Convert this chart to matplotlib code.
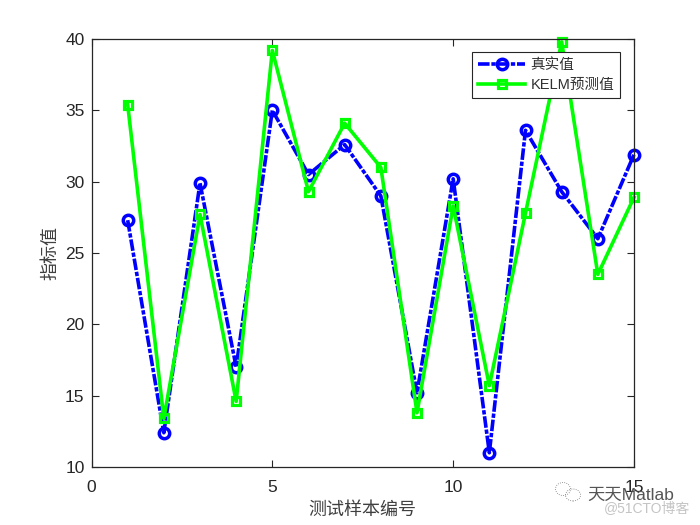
import matplotlib
matplotlib.use('Agg')
import matplotlib.pyplot as plt
from matplotlib.patches import Ellipse

plt.rcParams['font.family'] = ['Liberation Sans', 'Noto Sans CJK SC', 'DejaVu Sans']

W, H = 700, 525

sample_no = [1, 2, 3, 4, 5, 6, 7, 8, 9, 10, 11, 12, 13, 14, 15]
y_true = [27.3, 12.4, 29.9, 17.0, 35.0, 30.5, 32.6, 29.0, 15.2, 30.2, 11.0, 33.6, 29.3, 26.0, 31.9]
y_pred = [35.4, 13.4, 27.7, 14.6, 39.2, 29.3, 34.1, 31.0, 13.8, 28.3, 15.7, 27.8, 39.8, 23.5, 28.9]
x_ticks = [0, 5, 10, 15]
y_ticks = [10, 15, 20, 25, 30, 35, 40]

fig = plt.figure(figsize=(W / 100, H / 100), dpi=100)
ax = fig.add_axes([91.5 / W, 1 - 467 / H, (634 - 91.5) / W, (467 - 39) / H])

ax.plot(sample_no, y_true, color='#0000ff', linestyle=(0, (3.2, 0.5, 1.2, 0.5)), linewidth=2.6, marker='o',
        markersize=7.5, markeredgewidth=2.5, markerfacecolor='none', label='真实值', clip_on=False)
ax.plot(sample_no, y_pred, color='#00ff00', linestyle='-', linewidth=2.6, marker='s',
        markersize=6, markeredgewidth=2.3, markerfacecolor='none', label='KELM预测值', clip_on=False)

ax.set_xlim(0, 15)
ax.set_ylim(10, 40)
ax.set_xticks(x_ticks)
ax.set_yticks(y_ticks)
ax.tick_params(direction='in', top=True, right=True, length=5, width=0.8,
               labelsize=12.5, colors='#262626')
ax.tick_params(axis='x', pad=9)
ax.tick_params(axis='y', pad=5)
for s in ax.spines.values():
    s.set_linewidth(0.9)
    s.set_color('#262626')

ax.set_xlabel('测试样本编号', fontsize=13, color='#404040', labelpad=5)
ax.set_ylabel('指标值', fontsize=13, color='#404040', labelpad=4)

leg = ax.legend(loc='upper left', bbox_to_anchor=(472 / W, 1 - 52 / H), bbox_transform=fig.transFigure,
                fontsize=10.5, fancybox=False, framealpha=1, edgecolor='#262626',
                borderaxespad=0, borderpad=0.4, labelspacing=0.4, handlelength=3.25, handletextpad=0.35)
leg.get_frame().set_linewidth(0.8)
for t in leg.get_texts():
    t.set_color('#303030')

# watermark
fig.text(587 / W, 1 - 495 / H, '天天Matlab', fontsize=12.5, color='#555555', va='center', ha='left')
fig.text(604 / W, 1 - 508 / H, '@51CTO博客', fontsize=10, color='#c4c4c4', va='center', ha='left')
for cx, cy, rw, rh in [(563, 489, 15, 13), (573, 495, 15, 12)]:
    fig.add_artist(Ellipse((cx / W, 1 - cy / H), rw / W, rh / H, transform=fig.transFigure,
                           fill=False, edgecolor='#777777', linewidth=0.6, linestyle=':'))

fig.savefig('out.png', dpi=100)
